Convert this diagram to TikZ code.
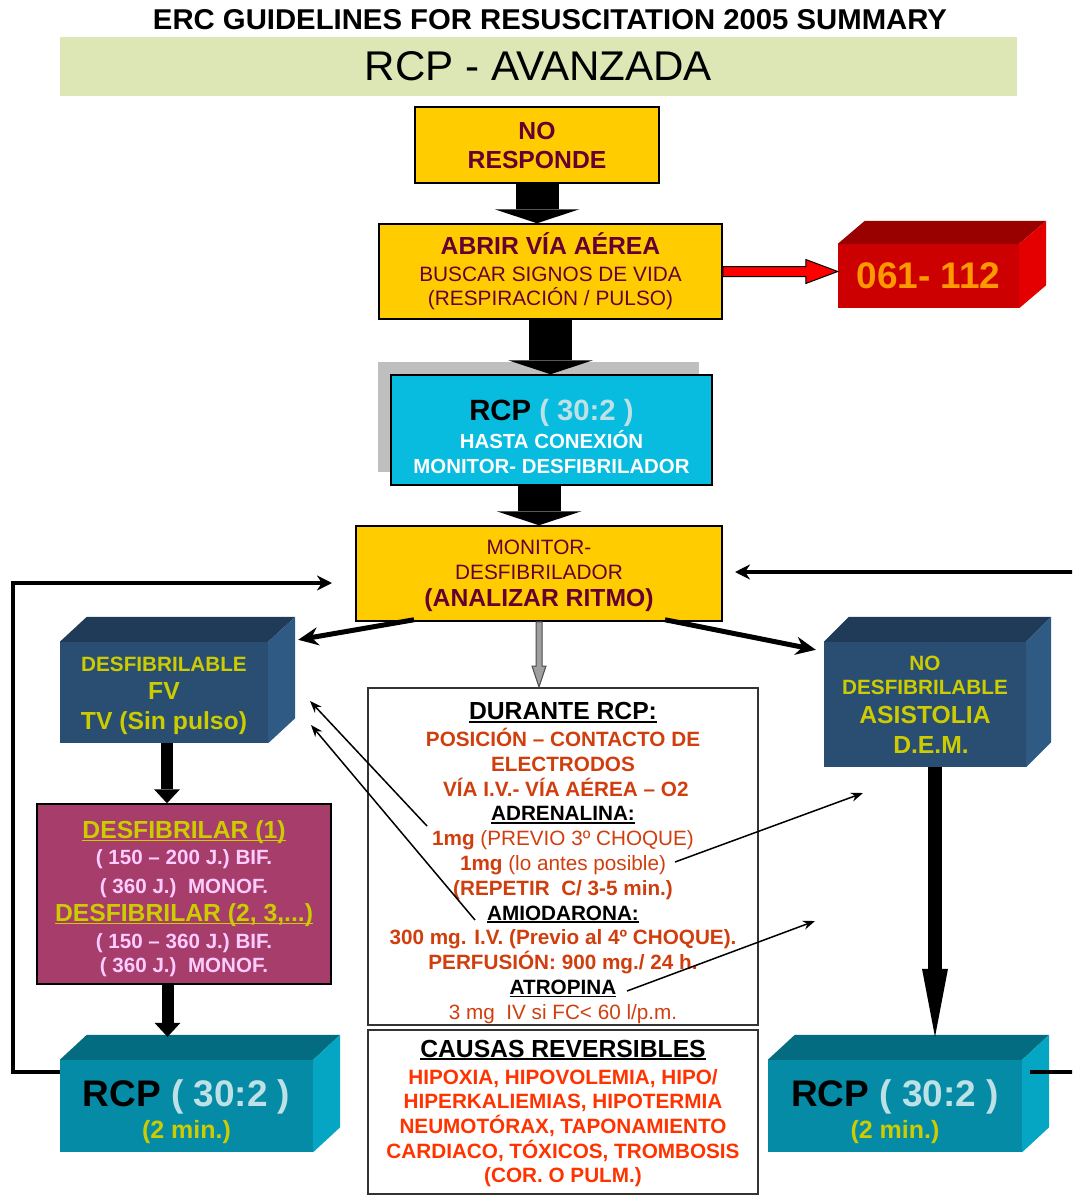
\documentclass[tikz,border=0pt]{standalone}
\usepackage{graphicx}
\usepackage{fontspec}
\setmainfont{Liberation Sans}
\usetikzlibrary{arrows.meta,calc,shadows}

\definecolor{ercyellow}{RGB}{255,204,0}
\definecolor{maroon}{RGB}{102,0,51}
\definecolor{banner}{RGB}{221,230,181}
\definecolor{cyanbox}{RGB}{8,188,224}
\definecolor{pale}{RGB}{190,225,230}
\definecolor{redF}{RGB}{204,0,0}
\definecolor{redT}{RGB}{153,0,0}
\definecolor{redS}{RGB}{228,0,0}
\definecolor{orange061}{RGB}{255,153,0}
\definecolor{navyF}{RGB}{41,78,114}
\definecolor{navyT}{RGB}{32,59,88}
\definecolor{navyS}{RGB}{46,90,132}
\definecolor{tealF}{RGB}{5,139,166}
\definecolor{tealT}{RGB}{4,108,128}
\definecolor{tealS}{RGB}{5,166,196}
\definecolor{ylw}{RGB}{204,204,0}
\definecolor{magbox}{RGB}{166,61,106}
\definecolor{pinktxt}{RGB}{255,204,255}
\definecolor{drugtxt}{RGB}{208,62,14}
\definecolor{causetxt}{RGB}{255,51,0}
\definecolor{arrowred}{RGB}{255,0,0}
\definecolor{shadowgray}{RGB}{191,191,191}

\newcommand{\fbig}{\fontsize{24.7}{29}\selectfont}
\newcommand{\fmed}{\fontsize{20.7}{24.8}\selectfont}
\newcommand{\undl}[1]{\setbox0\hbox{#1}\rlap{\rule[-3pt]{\wd0}{1.8pt}}\box0}

\tikzset{
  flowbox/.style={draw=black, line width=1.5pt, align=center, inner sep=0pt},
  face/.style={inner sep=0pt, align=center},
  boxtext/.style={inner sep=0pt, align=center},
  bigarrow/.style={line width=43pt, -{Triangle[width=85pt,length=14pt,line width=0pt]}},
  slimarrow/.style={line width=12pt, -{Triangle[width=26pt,length=14pt,line width=0pt]}},
  longarrow/.style={line width=14pt, -{Triangle[width=26pt,length=68pt,line width=0pt]}},
  diagarrow/.style={line width=5pt, -{Stealth[width=18pt,length=20pt]}},
  loopline/.style={line width=4pt, -{Stealth[width=15pt,length=15pt]}},
  thinarrow/.style={line width=1.5pt, -{Stealth[width=9pt,length=12pt]}},
}

\begin{document}
\begin{tikzpicture}[x=1pt,y=-1pt]
\useasboundingbox (0,0) rectangle (1072,1196);
\clip (0,0) rectangle (1072,1196);

% heading
\node (title) at (550,20) {\resizebox{794pt}{20pt}{\bfseries ERC GUIDELINES FOR RESUSCITATION 2005 SUMMARY}};
\node[fill=banner, minimum width=957pt, minimum height=59pt, inner sep=0pt] (banner) at (538.5,66.5) {\resizebox{347pt}{29pt}{RCP - AVANZADA}};

% main column
\begin{scope}[every node/.style={flowbox, fill=ercyellow, text=maroon}]
\node[minimum width=244pt, minimum height=76pt, font=\bfseries\fbig] (noresp) at (537,145) {NO\\RESPONDE};
\node[minimum width=343pt, minimum height=95pt, font=\fontsize{20.8}{24}\selectfont] (abrir) at (550.5,271.5) {{\bfseries\fbig ABRIR VÍA AÉREA}\\[3pt]BUSCAR SIGNOS DE VIDA\\(RESPIRACIÓN / PULSO)};
\node[minimum width=366pt, minimum height=95pt] (monitor) at (539,573.5) {};
\end{scope}
\node[boxtext, text=maroon, font=\fontsize{20.8}{25}\selectfont] (montext) at ([yshift=-2.5pt]monitor.center) {MONITOR-\\DESFIBRILADOR\\[2pt]{\bfseries\fbig (ANALIZAR RITMO)}};
\node[flowbox, fill=cyanbox, minimum width=321pt, minimum height=110pt, drop shadow={shadow xshift=-13pt, shadow yshift=13pt, opacity=1, fill=shadowgray}] (rcp) at (551.5,430) {};
\node[boxtext, text=white, font=\bfseries\fontsize{20.4}{25}\selectfont] (rcptext) at ([yshift=-6pt]rcp.center) {{\fontsize{29.3}{32}\selectfont\color{black}RCP \color{pale}( 30:2 )}\\[3pt]HASTA CONEXIÓN\\MONITOR- DESFIBRILADOR};

% solid boxes, front faces
\node[face, fill=redF, minimum width=181pt, minimum height=64pt, text=orange061, font=\bfseries\fontsize{37}{40}\selectfont] (box061) at (928.5,276) {061- 112};
\node[face, fill=navyF, minimum width=208pt, minimum height=101pt] (fvbox) at (164,692.5) {};
\node[boxtext, text=ylw, font=\bfseries\fontsize{24.7}{30}\selectfont] (fvtext) at ([yshift=-3.5pt]fvbox.center) {{\fmed DESFIBRILABLE}\\[-2pt]FV\\TV (Sin pulso)};
\node[face, fill=navyF, minimum width=202pt, minimum height=125pt, text=ylw, font=\bfseries\fmed] (nofv) at (925,704.5) {NO\\DESFIBRILABLE\\[4pt]{\fbig ASISTOLIA}\\[5pt]{\fbig\hspace*{12pt}D.E.M.}};
\node[face, fill=tealF, minimum width=253pt, minimum height=92pt] (rcpL) at (186.5,1106) {};
\node[face, fill=tealF, minimum width=254pt, minimum height=92pt] (rcpR) at (895,1106) {};
\foreach \nm in {rcpL,rcpR}{
  \node[boxtext, text=ylw, font=\bfseries\fontsize{25}{32}\selectfont] (\nm text) at ([yshift=-5.5pt]\nm.center) {{\fontsize{37}{40}\selectfont\color{black}RCP \color{pale}( 30:2 )}\\(2 min.)};
}

% top and side faces
\foreach \nm/\topc/\sidec/\dx/\dy in {box061/redT/redS/27/23, fvbox/navyT/navyS/27/25, nofv/navyT/navyS/25/25, rcpL/tealT/tealS/27/25, rcpR/tealT/tealS/27/25}{
  \fill[\topc] (\nm.north west) -- ++(\dx,-\dy) -- ($(\nm.north east)+(\dx,-\dy)$) -- (\nm.north east) -- cycle;
  \fill[\sidec] (\nm.north east) -- ++(\dx,-\dy) -- ($(\nm.south east)+(\dx,-\dy)$) -- (\nm.south east) -- cycle;
}

% defibrillation box
\node[flowbox, fill=magbox, minimum width=294pt, minimum height=180pt] (desfib) at (184,894) {};
\node[boxtext, text=pinktxt, font=\bfseries\fontsize{20.6}{26}\selectfont] (desfibtext) at ([yshift=-4.5pt]desfib.center) {{\color{ylw}\fbig\undl{DESFIBRILAR (1)}}\\( 150 – 200 J.) BIF.\\[3pt]( 360 J.)\ \ MONOF.\\[2pt]{\color{ylw}\fbig\undl{DESFIBRILAR (2, 3,...)}}\\[1pt]( 150 – 360 J.) BIF.\\[-2pt]( 360 J.)\ \ MONOF.};

% during CPR
\node[draw=black!80, line width=2pt, minimum width=390pt, minimum height=337pt] (durante) at (563,856.5) {};
\node[draw=black!80, line width=2pt, minimum width=390pt, minimum height=164pt] (causas) at (563,1112) {};
\node[boxtext, text=drugtxt, font=\bfseries\fontsize{20.7}{24.8}\selectfont] (durtext) at (563,863) {{\color{black}\fbig\undl{DURANTE RCP:}}\\[2pt]POSICIÓN – CONTACTO DE\\ELECTRODOS\\\ VÍA I.V.- VÍA AÉREA – O2\\{\color{black}\undl{ADRENALINA:}}\\1mg {\mdseries (PREVIO 3º CHOQUE)}\\1mg {\mdseries (lo antes posible)}\\(REPETIR\ \ C/ 3-5 min.)\\{\color{black}\undl{AMIODARONA:}}\\300 mg. I.V. (Previo al 4º CHOQUE).\\PERFUSIÓN: 900 mg./ 24 h.\\{\color{black}\undl{ATROPINA}}\\{\mdseries 3 mg\ \ IV si FC< 60 l/p.m.}};
\node[boxtext, text=causetxt, font=\bfseries\fontsize{20.7}{24.6}\selectfont] (caustext) at (563,1113.5) {{\color{black}\fbig\undl{CAUSAS REVERSIBLES}}\\[2.5pt]HIPOXIA, HIPOVOLEMIA, HIPO/\\HIPERKALIEMIAS, HIPOTERMIA\\NEUMOTÓRAX, TAPONAMIENTO\\CARDIACO, TÓXICOS, TROMBOSIS\\(COR. O PULM.)};

% block arrows
\draw[bigarrow] (noresp.south) -- (noresp.south |- abrir.north);
\draw[bigarrow] (abrir.south) -- (abrir.south |- rcp.north);
\draw[bigarrow] (monitor.north |- rcp.south) -- (monitor.north);
\draw[slimarrow] ($(fvbox.south)+(3,0)$) -- ($(fvbox.south |- desfib.north)+(3,0)$);
\draw[slimarrow] ($(desfib.south)+(-16.5,0)$) -- ($(desfib.south |- rcpL.north)+(-16.5,-23)$);
\draw[longarrow] ($(nofv.south)+(10,0)$) -- ($(nofv.south |- rcpR.north)+(10,-23)$);

% call arrow
\coordinate (redtip) at (abrir.east -| box061.west);
\draw[line width=1pt, fill=arrowred] ($(abrir.east)+(0,-5)$) -- ($(redtip)+(-32,-5)$) -- ($(redtip)+(-32,-12)$) -- (redtip) -- ($(redtip)+(-32,12)$) -- ($(redtip)+(-32,5)$) -- ($(abrir.east)+(0,5)$) -- cycle;

% rhythm branches
\draw[diagarrow] ($(monitor.south)+(-125,-2)$) -- ($(fvbox.north east)+(30,-2)$);
\draw[diagarrow] ($(monitor.south)+(126,-2)$) -- ($(nofv.north west)+(-8,8)$);
\coordinate (graytip) at (monitor.south |- durante.north);
\draw[line width=1pt, draw=black!70, fill=gray!75] ($(monitor.south)+(-3,0)$) -- ($(graytip)+(-3,-21)$) -- ($(graytip)+(-7,-21)$) -- (graytip) -- ($(graytip)+(7,-21)$) -- ($(graytip)+(3,-21)$) -- ($(monitor.south)+(3,0)$) -- cycle;

% return loops
\coordinate (retL) at (332,583);
\coordinate (cornerL) at (13,1072);
\draw[loopline] (cornerL -| rcpL.west) -- (cornerL) |- (retL);
\coordinate (retR) at (735,572);
\coordinate (cornerR) at (1090,1072);
\draw[loopline] ($(cornerR -| rcpR.east)+(8,0)$) -- (cornerR) |- (retR);

% drug pointers
\coordinate (adr3) at (427,826);
\coordinate (fvA) at (310,701);
\coordinate (amio) at (475,920);
\coordinate (fvB) at (311,725);
\coordinate (adr1) at (675,862);
\coordinate (nofvA) at (863,793);
\coordinate (atro) at (627,991);
\coordinate (nofvB) at (815,921);
\draw[thinarrow] (adr3) -- (fvA);
\draw[thinarrow] (amio) -- (fvB);
\draw[thinarrow] (adr1) -- (nofvA);
\draw[thinarrow] (atro) -- (nofvB);
\end{tikzpicture}
\end{document}
